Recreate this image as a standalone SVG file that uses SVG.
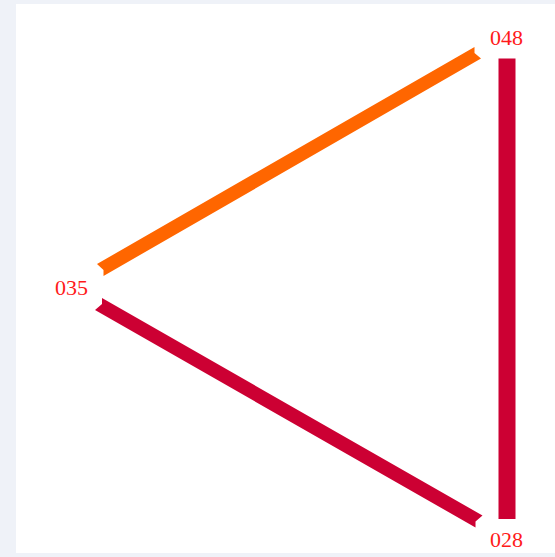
<svg xmlns="http://www.w3.org/2000/svg" width="555" height="557" viewBox="0 0 555 557">
<style>
.lbl{font-family:"Liberation Serif","Times New Roman",serif;font-size:22px;fill:#ff1a1a;text-anchor:middle}
.orange{fill:#ff6600}
.crimson{fill:#cc0033}
</style>
<rect x="0" y="0" width="555" height="557" fill="#eff2f8"/>
<rect x="16" y="4" width="539" height="549" fill="#ffffff"/>
<g id="connectors">
<polygon class="orange" points="474.5,47 474.5,53 481,58.5 103.5,276 103.5,270 97,264"/>
<polygon class="crimson" points="102,298 482.5,515.5 475.5,521.5 475.5,527.5 95,310 102,304"/>
<rect class="crimson" x="498.5" y="58.5" width="17" height="460.5"/>
</g>
<g id="node-048"><text class="lbl" x="506.5" y="45">048</text></g>
<g id="node-035"><text class="lbl" x="71.5" y="295">035</text></g>
<g id="node-028"><text class="lbl" x="506.5" y="547">028</text></g>
</svg>
